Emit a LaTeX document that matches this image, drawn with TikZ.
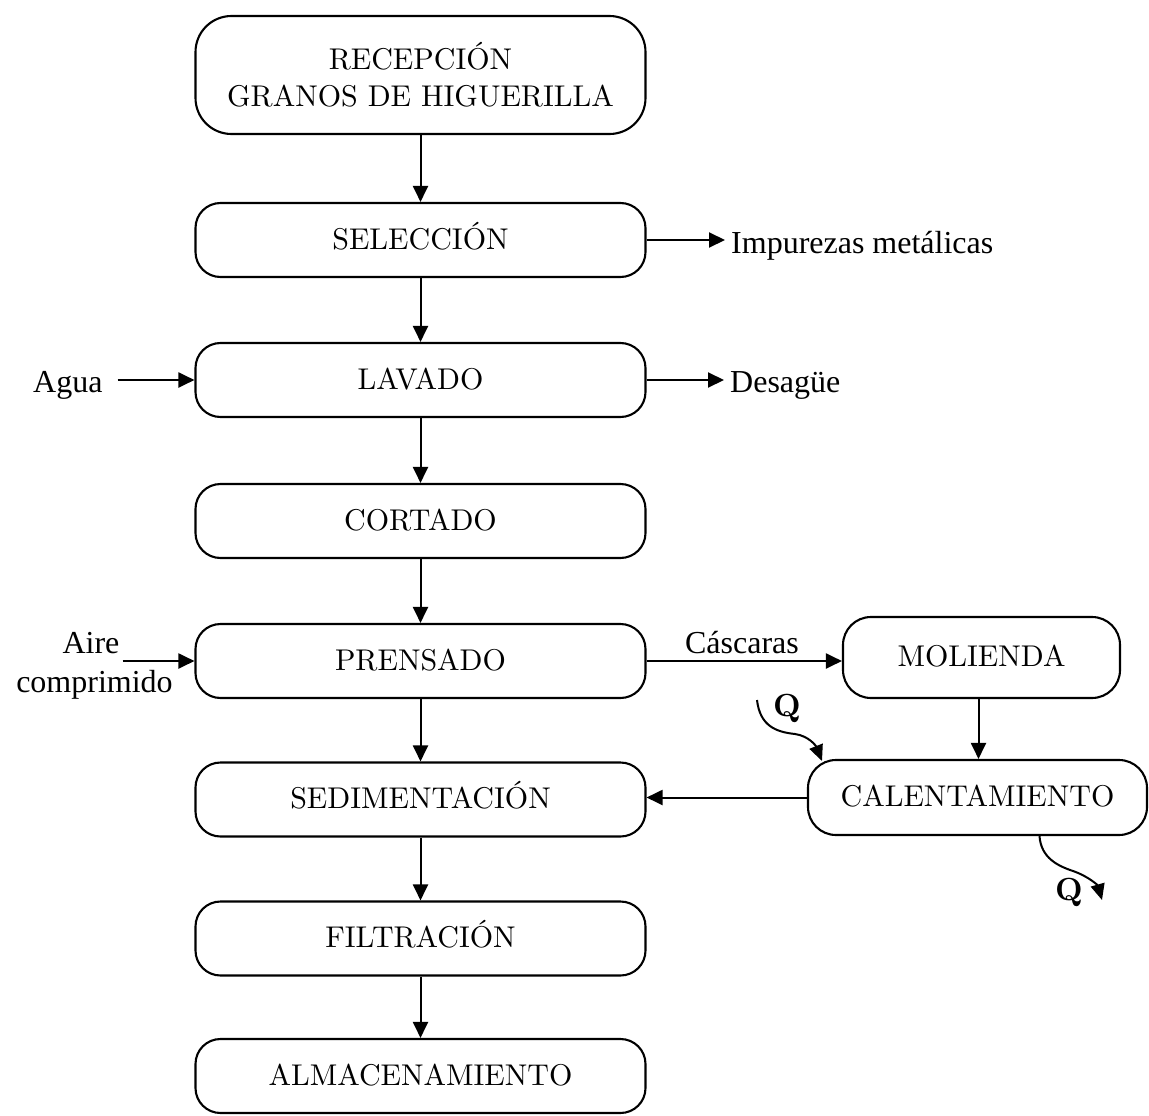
\documentclass[tikz,border=0pt]{standalone}
\usepackage{fontspec}
\newfontfamily\tnr{Liberation Serif}
\newfontfamily\boxfont[Extension=.otf]{lmroman10-regular}
\newfontfamily\heatfont[Extension=.otf]{lmroman10-bold}
\usetikzlibrary{arrows.meta}
\begin{document}
\begin{tikzpicture}[x=1pt,y=-1pt,
  proc/.style={draw, line width=2.1pt, rounded corners=25pt,
    minimum width=450pt, minimum height=74pt, inner sep=0pt,
    align=center, font=\boxfont\fontsize{30}{37}\selectfont},
  oneline/.style={text height=21pt, text depth=3pt},
  flow/.style={line width=2pt, -{Triangle[length=16pt,width=15pt]}},
  heatflow/.style={line width=2pt, -{Triangle[length=16pt,width=14pt]}},
  side/.style={inner sep=0pt, font=\tnr\fontsize{32}{39}\selectfont},
  heat/.style={inner sep=0pt, font=\heatfont\fontsize{32}{36}\selectfont}]

\useasboundingbox (0,0) rectangle (1149,1116);

% main process column
\node[proc, minimum height=118pt, rounded corners=36pt] (rec) at (420.5,75)
  {RECEPCIÓN\\GRANOS DE HIGUERILLA};
\node[proc, oneline] (sel) at (420.5,240) {SELECCIÓN};
\node[proc, oneline] (lav) at (420.5,380) {LAVADO};
\node[proc, oneline] (cor) at (420.5,521) {CORTADO};
\node[proc, oneline] (pre) at (420.5,661) {PRENSADO};
\node[proc, oneline] (sed) at (420.5,799.5) {SEDIMENTACIÓN};
\node[proc, oneline] (fil) at (420.5,938.5) {FILTRACIÓN};
\node[proc, oneline] (alm) at (420.5,1076) {ALMACENAMIENTO};

% husk branch
\node[proc, oneline, minimum width=277pt, minimum height=81pt, rounded corners=28pt]
  (mol) at (981.5,657.5) {MOLIENDA};
\node[proc, oneline, minimum width=339pt, minimum height=75pt, rounded corners=28pt]
  (cal) at (977.5,797.5) {CALENTAMIENTO};

% side streams
\node[side, anchor=base west] (imp) at (731,253) {Impurezas metálicas};
\node[side, anchor=base west] (des) at (730,392) {Desagüe};
\node[side, anchor=base west] (agua) at (33,392) {Agua};
\node[side, anchor=base] (aire) at (91,653) {Aire};
\node[side, anchor=base] (comp) at (94.5,692) {comprimido};
\node[side, anchor=base] (casc) at (742,653) {Cáscaras};

% heat labels
\node[heat, anchor=base] (q1) at (787,716) {Q};
\node[heat, anchor=base] (q2) at (1069,900) {Q};

% main flow
\draw[flow] (rec) -- (sel);
\draw[flow] (sel) -- (lav);
\draw[flow] (lav) -- (cor);
\draw[flow] (cor) -- (pre);
\draw[flow] (pre) -- (sed);
\draw[flow] (sed) -- (fil);
\draw[flow] (fil) -- (alm);

% inputs and outputs
\draw[flow] (sel.east) -- ([xshift=-6pt]sel.east -| imp.west);
\draw[flow] (lav.east) -- ([xshift=-6pt]lav.east -| des.west);
\draw[flow] ([xshift=15pt]agua.east |- lav.west) -- (lav.west);
\draw[flow] ([xshift=3pt]aire.east |- pre.west) -- (pre.west);

% husk processing
\draw[flow] (pre.east) -- (pre.east -| mol.west);
\draw[flow] ([xshift=-3pt]mol.south) -- ([xshift=-3pt]mol.south |- cal.north);
\draw[flow] (cal.west) -- (cal.west -| sed.east);

% heat in and out
\coordinate (qa) at (757,700);
\coordinate (qb) at (822,761);
\draw[heatflow] (qa) .. controls (760,726) and (776,732) .. (795,734)
  .. controls (809,736) and (816,746) .. (qb);
\coordinate (qd) at (1102,900);
\draw[heatflow] ([xshift=62pt]cal.south) .. controls (1041,858) and (1058,866) .. (1073,871)
  .. controls (1090,877) and (1098,886) .. (qd);
\end{tikzpicture}
\end{document}
